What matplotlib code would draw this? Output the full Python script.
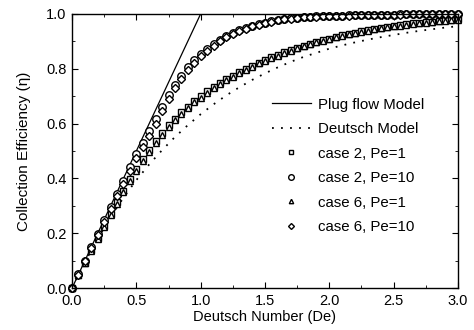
import matplotlib.pyplot as plt
from matplotlib.ticker import MultipleLocator

plt.rcParams["font.family"] = ["Liberation Sans", "DejaVu Sans"]

# Deutsch number grid used for the simulated cases
de_cases = [0.00, 0.05, 0.10, 0.15, 0.20, 0.25, 0.30, 0.35, 0.40, 0.45,
            0.50, 0.55, 0.60, 0.65, 0.70, 0.75, 0.80, 0.85, 0.90, 0.95,
            1.00, 1.05, 1.10, 1.15, 1.20, 1.25, 1.30, 1.35, 1.40, 1.45,
            1.50, 1.55, 1.60, 1.65, 1.70, 1.75, 1.80, 1.85, 1.90, 1.95,
            2.00, 2.05, 2.10, 2.15, 2.20, 2.25, 2.30, 2.35, 2.40, 2.45,
            2.50, 2.55, 2.60, 2.65, 2.70, 2.75, 2.80, 2.85, 2.90, 2.95,
            3.00]

case2_pe1 = [0.000, 0.047, 0.093, 0.139, 0.184, 0.228, 0.270, 0.313, 0.355, 0.396,
             0.434, 0.470, 0.504, 0.536, 0.566, 0.593, 0.618, 0.641, 0.662, 0.682,
             0.700, 0.717, 0.733, 0.748, 0.762, 0.775, 0.788, 0.800, 0.811, 0.822,
             0.832, 0.842, 0.851, 0.860, 0.868, 0.876, 0.884, 0.891, 0.898, 0.904,
             0.910, 0.916, 0.922, 0.927, 0.932, 0.937, 0.941, 0.945, 0.949, 0.953,
             0.956, 0.959, 0.962, 0.965, 0.968, 0.970, 0.972, 0.975, 0.977, 0.979,
             0.981]

case2_pe10 = [0.000, 0.050, 0.100, 0.150, 0.199, 0.248, 0.296, 0.344, 0.392, 0.442,
              0.490, 0.530, 0.572, 0.615, 0.662, 0.703, 0.742, 0.775, 0.806, 0.832,
              0.855, 0.873, 0.890, 0.905, 0.918, 0.930, 0.940, 0.949, 0.956, 0.962,
              0.968, 0.973, 0.977, 0.981, 0.984, 0.986, 0.988, 0.990, 0.991, 0.992,
              0.993, 0.994, 0.994, 0.995, 0.995, 0.996, 0.996, 0.996, 0.997, 0.997,
              0.997, 0.998, 0.998, 0.998, 0.998, 0.999, 0.999, 0.999, 0.999, 1.000,
              1.000]

case6_pe1 = [0.000, 0.046, 0.091, 0.136, 0.180, 0.223, 0.265, 0.307, 0.349, 0.389,
             0.427, 0.463, 0.497, 0.529, 0.559, 0.587, 0.612, 0.636, 0.657, 0.677,
             0.695, 0.712, 0.728, 0.744, 0.758, 0.771, 0.784, 0.796, 0.808, 0.819,
             0.829, 0.839, 0.848, 0.857, 0.866, 0.874, 0.882, 0.889, 0.896, 0.902,
             0.908, 0.914, 0.920, 0.925, 0.930, 0.935, 0.939, 0.943, 0.947, 0.951,
             0.954, 0.957, 0.960, 0.963, 0.966, 0.968, 0.971, 0.973, 0.975, 0.977,
             0.979]

case6_pe10 = [0.000, 0.049, 0.098, 0.147, 0.195, 0.242, 0.288, 0.334, 0.380, 0.426,
              0.474, 0.515, 0.556, 0.598, 0.645, 0.688, 0.728, 0.762, 0.794, 0.822,
              0.846, 0.866, 0.884, 0.900, 0.914, 0.926, 0.937, 0.946, 0.954, 0.961,
              0.967, 0.972, 0.976, 0.980, 0.983, 0.985, 0.987, 0.989, 0.990, 0.991,
              0.992, 0.993, 0.994, 0.994, 0.995, 0.995, 0.996, 0.996, 0.996, 0.997,
              0.997, 0.997, 0.998, 0.998, 0.998, 0.998, 0.999, 0.999, 0.999, 0.999,
              1.000]

# model curves
de_plug = [0.0, 1.0, 3.0]
eta_plug = [0.0, 1.0, 1.0]

de_deutsch = [0.0, 0.1, 0.2, 0.3, 0.4, 0.5, 0.6, 0.7, 0.8, 0.9, 1.0,
              1.1, 1.2, 1.3, 1.4, 1.5, 1.6, 1.7, 1.8, 1.9, 2.0,
              2.1, 2.2, 2.3, 2.4, 2.5, 2.6, 2.7, 2.8, 2.9, 3.0]
eta_deutsch = [0.000, 0.095, 0.181, 0.259, 0.330, 0.394, 0.451, 0.503, 0.551, 0.594, 0.634,
               0.670, 0.703, 0.732, 0.759, 0.783, 0.805, 0.825, 0.843, 0.858, 0.873,
               0.885, 0.896, 0.906, 0.915, 0.923, 0.931, 0.938, 0.944, 0.950, 0.955]

fig = plt.figure(figsize=(4.74, 3.30), dpi=100)
ax = fig.add_axes([0.152, 0.127, 0.814, 0.831])

ax.plot(de_plug, eta_plug, color="black", lw=0.9, label="Plug flow Model")
ax.plot(de_deutsch, eta_deutsch, color="black", lw=1.3, linestyle=(0, (1, 4)),
        label="Deutsch Model")

mk = dict(linestyle="none", mfc="white", mec="black", mew=1.0, clip_on=False)
ax.plot(de_cases, case2_pe1, marker="s", ms=4.2, label="case 2, Pe=1", **mk)
ax.plot(de_cases, case2_pe10, marker="o", ms=5.4, label="case 2, Pe=10", **mk)
ax.plot(de_cases, case6_pe1, marker="^", ms=4.2, label="case 6, Pe=1", **mk)
ax.plot(de_cases, case6_pe10, marker="D", ms=4.0, label="case 6, Pe=10", **mk)

ax.set_xlim(0, 3.0)
ax.set_ylim(0, 1.0)
ax.xaxis.set_major_locator(MultipleLocator(0.5))
ax.xaxis.set_minor_locator(MultipleLocator(0.25))
ax.yaxis.set_major_locator(MultipleLocator(0.2))
ax.yaxis.set_minor_locator(MultipleLocator(0.1))
ax.xaxis.set_major_formatter(plt.FormatStrFormatter("%.1f"))
ax.yaxis.set_major_formatter(plt.FormatStrFormatter("%.1f"))
ax.tick_params(which="both", direction="in", top=True, right=True, labelsize=10.5)
ax.tick_params(which="major", length=4, pad=4)
ax.tick_params(which="minor", length=2.5)
for s in ax.spines.values():
    s.set_linewidth(1.0)

ax.set_xlabel("Deutsch Number (De)", fontsize=10.5, labelpad=2)
ax.set_ylabel("Collection Efficiency (\u03b7)", fontsize=11, labelpad=11)

leg = ax.legend(loc="upper left", bbox_to_anchor=(0.518, 0.695), frameon=False,
                fontsize=10.8, handlelength=2.6, handletextpad=0.45,
                labelspacing=0.7, borderaxespad=0, borderpad=0,
                numpoints=1, markerscale=0.75)

fig.savefig("out.png", dpi=100)
